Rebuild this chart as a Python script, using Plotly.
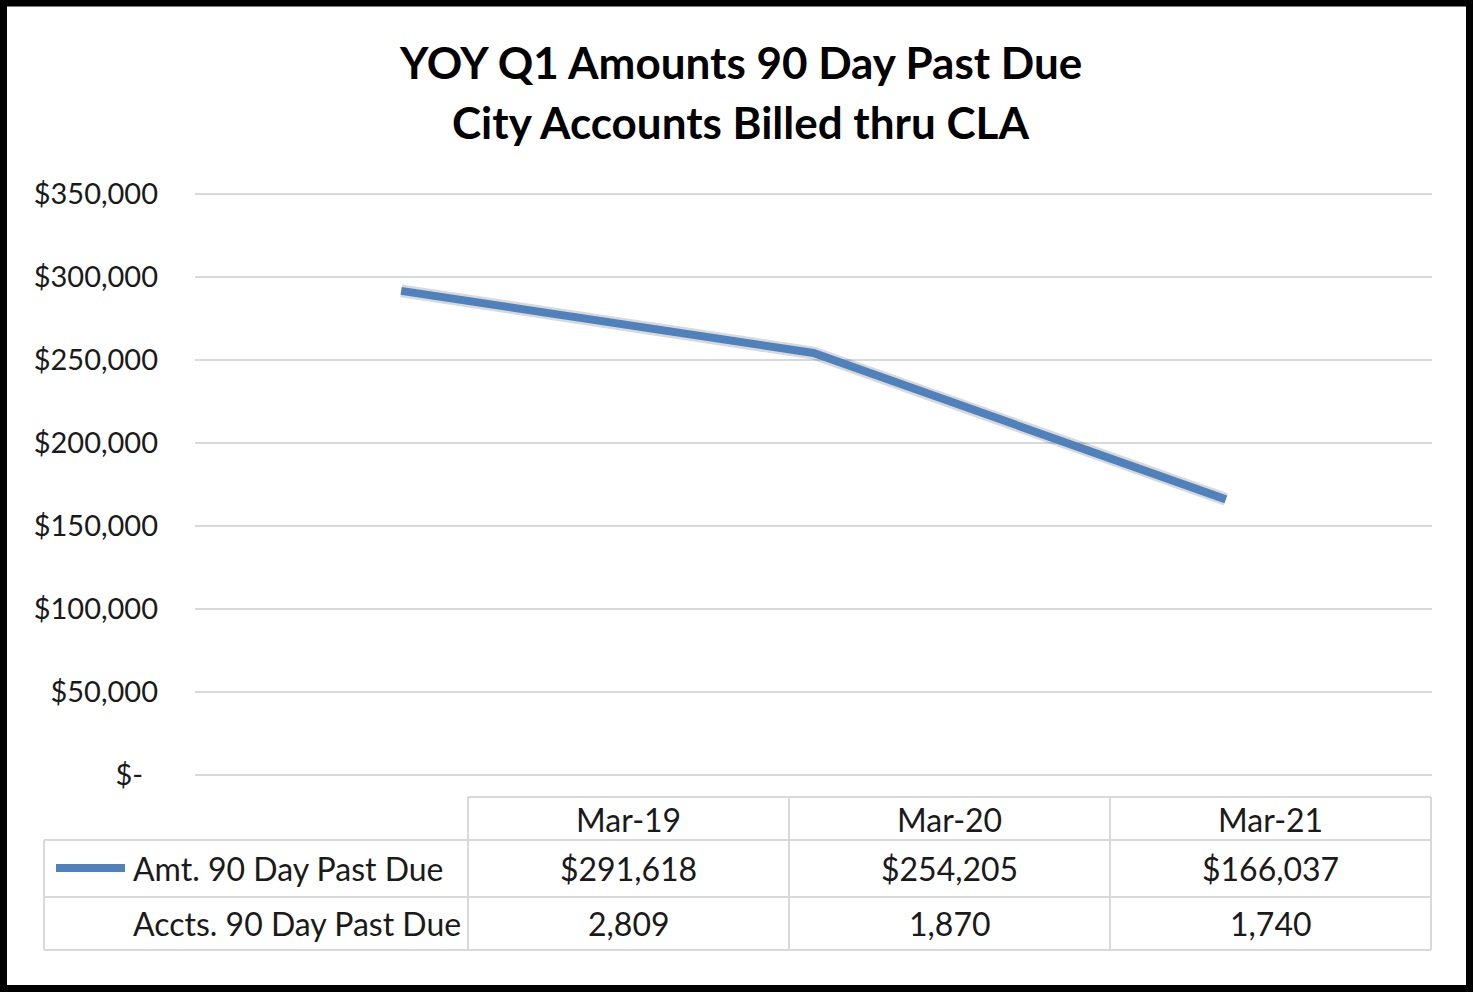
import plotly.graph_objects as go

# ---- data ----
categories = ["Mar-19", "Mar-20", "Mar-21"]
amt_past_due = [291618, 254205, 166037]
accts_past_due = [2809, 1870, 1740]
series_names = ["Amt. 90 Day Past Due", "Accts. 90 Day Past Due"]
y_tickvals = [0, 50000, 100000, 150000, 200000, 250000, 300000, 350000]
y_ticktext = ["$-\u00a0\u00a0", "$50,000", "$100,000", "$150,000", "$200,000",
              "$250,000", "$300,000", "$350,000"]
title_lines = ["YOY Q1 Amounts 90 Day Past Due", "City Accounts Billed thru CLA"]

W, H = 1473, 992
L, R = 195, 1432
Y350, Y0 = 194, 775          # pixel rows of 350,000 and 0
PAD = 3000                   # small range pad so edge gridlines show
ppu = (Y0 - Y350) / 350000
T = Y350 - PAD * ppu
B = Y0 + PAD * ppu
FONT = "Lato"
TXT = "#1a1a1a"
BLUE = "#4F81BD"
GRID = "#D9D9D9"


def px(x):
    return (x - L) / (R - L)


def py(y):
    return (B - y) / (B - T)


fig = go.Figure()
fig.add_trace(go.Scatter(x=categories, y=amt_past_due, mode="lines",
                         line=dict(color="rgba(0,0,0,0.15)", width=13),
                         hoverinfo="skip", showlegend=False))
fig.add_trace(go.Scatter(x=categories, y=amt_past_due, mode="lines",
                         name=series_names[0],
                         line=dict(color=BLUE, width=8), showlegend=False))

shapes = []
ann = []

# outer black frame
shapes.append(dict(type="rect", xref="paper", yref="paper",
                   x0=px(3.5), x1=px(W - 3.5), y0=py(3), y1=py(H - 3.5),
                   line=dict(color="black", width=7), layer="above"))

# data table grid
col_edges = [468, 789, 1110, 1431]
row_edges = [797, 840, 897, 950]
left_edge = 44
gl = dict(color=GRID, width=2)
shapes.append(dict(type="line", xref="paper", yref="paper", x0=px(col_edges[0]), x1=px(col_edges[-1]),
                   y0=py(row_edges[0]), y1=py(row_edges[0]), line=gl))
for r in row_edges[1:]:
    shapes.append(dict(type="line", xref="paper", yref="paper", x0=px(left_edge), x1=px(col_edges[-1]),
                       y0=py(r), y1=py(r), line=gl))
for c in col_edges:
    shapes.append(dict(type="line", xref="paper", yref="paper", x0=px(c), x1=px(c),
                       y0=py(row_edges[0]), y1=py(row_edges[-1]), line=gl))
shapes.append(dict(type="line", xref="paper", yref="paper", x0=px(left_edge), x1=px(left_edge),
                   y0=py(row_edges[1]), y1=py(row_edges[-1]), line=gl))

# legend key in table
shapes.append(dict(type="line", xref="paper", yref="paper", x0=px(56), x1=px(125),
                   y0=py(868), y1=py(868), line=dict(color=BLUE, width=8)))

tfont = dict(family=FONT, size=32, color=TXT)
for i, cat in enumerate(categories):
    cx = (col_edges[i] + col_edges[i + 1]) / 2
    ann.append(dict(x=px(cx), y=py(819), xref="paper", yref="paper", text=cat,
                    showarrow=False, font=tfont, xanchor="center", yanchor="middle"))
    ann.append(dict(x=px(cx), y=py(868), xref="paper", yref="paper", text=f"${amt_past_due[i]:,}",
                    showarrow=False, font=tfont, xanchor="center", yanchor="middle"))
    ann.append(dict(x=px(cx), y=py(923), xref="paper", yref="paper", text=f"{accts_past_due[i]:,}",
                    showarrow=False, font=tfont, xanchor="center", yanchor="middle"))

ann.append(dict(x=px(131), y=py(868), xref="paper", yref="paper", text=series_names[0],
                showarrow=False, font=tfont, xanchor="left", yanchor="middle"))
ann.append(dict(x=px(131), y=py(923), xref="paper", yref="paper", text=series_names[1],
                showarrow=False, font=tfont, xanchor="left", yanchor="middle"))

for i, line in enumerate(title_lines):
    ann.append(dict(x=px(740), y=py(62 + 60 * i), xref="paper", yref="paper", text=f"<b>{line}</b>",
                    showarrow=False, font=dict(family=FONT, size=44, color="black"),
                    xanchor="center", yanchor="middle"))

fig.update_layout(
    width=W, height=H,
    margin=dict(l=L, r=W - R, t=T, b=H - B, pad=0),
    paper_bgcolor="white", plot_bgcolor="white",
    shapes=shapes, annotations=ann,
    showlegend=False,
    xaxis=dict(range=[-0.5, 2.5], showgrid=False, showticklabels=False, zeroline=False,
               showline=False, fixedrange=True),
    yaxis=dict(range=[-PAD, 350000 + PAD], tickvals=y_tickvals, ticktext=y_ticktext,
               showgrid=True, gridcolor=GRID, gridwidth=2, zeroline=False, showline=False,
               tickfont=dict(family=FONT, size=29, color=TXT), ticks="",
               ticklabelstandoff=36),
)

fig.write_html("out.html", config={"displayModeBar": False},
               post_script="document.body.style.margin='0';document.body.style.overflow='hidden';")
